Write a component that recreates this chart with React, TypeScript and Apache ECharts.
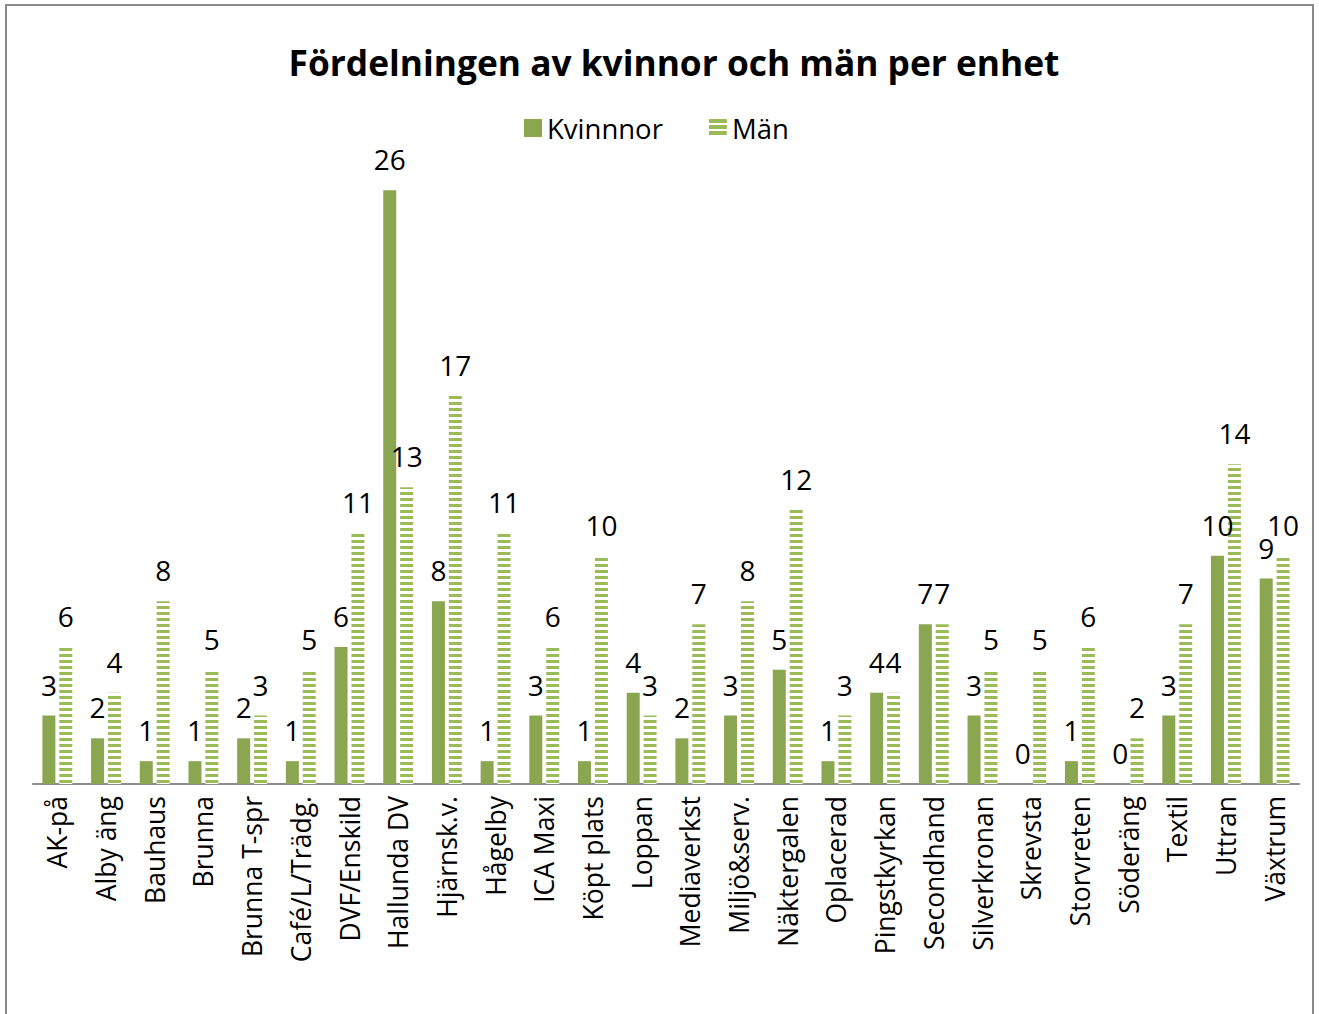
import React, { useEffect, useRef } from "react";
import * as echarts from "echarts";

const categories = [
  "AK-på", "Alby äng", "Bauhaus", "Brunna", "Brunna T-spr", "Café/L/Trädg.",
  "DVF/Enskild", "Hallunda DV", "Hjärnsk.v.", "Hågelby", "ICA Maxi", "Köpt plats",
  "Loppan", "Mediaverkst", "Miljö&serv.", "Näktergalen", "Oplacerad", "Pingstkyrkan",
  "Secondhand", "Silverkronan", "Skrevsta", "Storvreten", "Söderäng", "Textil",
  "Uttran", "Växtrum",
];
const kvinnor = [3, 2, 1, 1, 2, 1, 6, 26, 8, 1, 3, 1, 4, 2, 3, 5, 1, 4, 7, 3, 0, 1, 0, 3, 10, 9];
const man = [6, 4, 8, 5, 3, 5, 11, 13, 17, 11, 6, 10, 3, 7, 8, 12, 3, 4, 7, 5, 5, 6, 2, 7, 14, 10];

const titleText = "Fördelningen av kvinnor och män per enhet";
const FONT = "'Open Sans', 'Noto Sans', sans-serif";

const stripeSvg =
  "data:image/svg+xml;utf8," +
  encodeURIComponent(
    '<svg xmlns="http://www.w3.org/2000/svg" width="8" height="6"><rect x="0" y="0" width="8" height="6" fill="#ffffff"/><rect x="0" y="0" width="8" height="3" fill="#9BBB59"/></svg>'
  );
const legendStripeSvg =
  "data:image/svg+xml;utf8," +
  encodeURIComponent(
    '<svg xmlns="http://www.w3.org/2000/svg" width="8" height="6"><rect x="0" y="0" width="8" height="6" fill="#ffffff"/><rect x="0" y="0" width="8" height="4" fill="#9BBB59"/></svg>'
  );

export default function App() {
  const ref = useRef<HTMLDivElement>(null);
  useEffect(() => {
    if (!ref.current) return;
    const chart = echarts.init(ref.current, null, { renderer: "svg" });
    const stripe: any = { image: stripeSvg, repeat: "repeat" };
    const legendStripe: any = { image: legendStripeSvg, repeat: "repeat" };
    chart.setOption({
      animation: false,
      backgroundColor: "#ffffff",
      graphic: [
        {
          type: "rect",
          shape: { x: 6, y: 5, width: 1307, height: 1040 },
          style: { fill: "none", stroke: "#8a8a8a", lineWidth: 2 },
          silent: true,
          z: 100,
        },
        {
          type: "text",
          x: 674,
          y: 62,
          style: {
            text: titleText,
            textAlign: "center",
            textVerticalAlign: "middle",
            fontFamily: FONT,
            fontWeight: "bold",
            fontSize: 35.3,
            fill: "#000",
          },
        },
      ],
      legend: {
        left: 519,
        top: 109,
        itemWidth: 18,
        itemHeight: 18,
        itemGap: 46,
        icon: "rect",
        textStyle: { fontFamily: FONT, fontSize: 27.5, color: "#000" },
        data: ["Kvinnnor", { name: "Män", itemStyle: { color: legendStripe } }],
      },
      grid: { left: 33, right: 20, top: 99, bottom: 230, containLabel: false },
      xAxis: {
        type: "category",
        data: categories,
        axisLine: { lineStyle: { color: "#8c8c8c", width: 2 } },
        axisTick: { show: false },
        axisLabel: {
          rotate: 90,
          interval: 0,
          margin: 12,
          fontFamily: FONT,
          fontSize: 26.5,
          color: "#000",
        },
      },
      yAxis: {
        type: "value",
        min: 0,
        max: 30,
        show: false,
        splitLine: { show: false },
      },
      series: [
        {
          name: "Kvinnnor",
          type: "bar",
          data: kvinnor,
          barWidth: 13,
          barGap: "30%",
          itemStyle: { color: "#8BA650" },
          label: {
            show: true,
            position: "top",
            distance: 17,
            fontFamily: FONT,
            fontSize: 28,
            color: "#000",
          },
        },
        {
          name: "Män",
          type: "bar",
          data: man,
          barWidth: 13,
          barGap: "30%",
          itemStyle: { color: stripe },
          label: {
            show: true,
            position: "top",
            distance: 17,
            fontFamily: FONT,
            fontSize: 28,
            color: "#000",
          },
        },
      ],
    });
    return () => chart.dispose();
  }, []);
  return (
    <div
      ref={ref}
      style={{ position: "fixed", left: 0, top: 0, width: 1319, height: 1014, background: "#fff" }}
    />
  );
}
